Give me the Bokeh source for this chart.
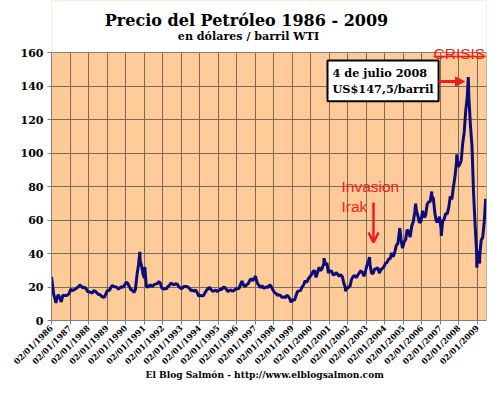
import pandas as pd
from math import pi
from bokeh.plotting import figure
from bokeh.models import Label, Arrow, NormalHead, OpenHead, FixedTicker, Range1d, ColumnDataSource, Title
from bokeh.embed import file_html
from bokeh.resources import INLINE

# Monthly WTI prices (US$/barrel)
y1986 = [22.9, 15.5, 12.6, 12.8, 15.4, 13.4, 11.6, 15.1, 14.9, 14.9, 15.2, 16.1]
y1987 = [18.7, 17.8, 18.3, 18.7, 19.4, 20.1, 21.3, 20.3, 19.5, 19.9, 18.9, 17.3]
y1988 = [17.1, 16.8, 16.2, 17.9, 17.4, 16.5, 15.5, 15.5, 14.5, 13.8, 14.1, 16.4]
y1989 = [18.0, 17.9, 19.5, 21.1, 20.1, 20.1, 19.8, 18.6, 19.6, 20.1, 19.9, 21.1]
y1990 = [22.9, 22.1, 20.4, 18.4, 18.2, 16.7, 18.5, 27.3, 33.5, 36.0, 32.3, 27.3]
y1991 = [25.2, 20.5, 19.9, 20.8, 21.2, 20.2, 21.4, 21.7, 21.9, 23.2, 22.5, 19.5]
y1992 = [18.8, 19.0, 18.9, 20.2, 21.0, 22.4, 21.8, 21.3, 21.9, 21.7, 20.3, 19.4]
y1993 = [19.0, 20.1, 20.3, 20.3, 20.0, 19.1, 17.9, 18.0, 17.5, 18.2, 16.6, 14.5]
y1994 = [15.0, 14.8, 14.7, 16.4, 17.9, 19.1, 19.7, 18.4, 17.5, 17.7, 18.1, 17.2]
y1995 = [18.0, 18.6, 18.5, 19.9, 19.7, 18.5, 17.3, 18.0, 18.2, 17.4, 18.0, 19.0]
y1996 = [18.9, 19.1, 21.3, 23.5, 21.2, 20.4, 21.3, 21.9, 24.0, 24.9, 23.7, 25.2]
y1997 = [25.1, 22.2, 21.0, 19.7, 20.8, 19.3, 19.7, 20.0, 19.8, 21.3, 20.2, 18.3]
y1998 = [16.7, 16.1, 15.1, 15.4, 14.9, 13.7, 14.2, 13.5, 15.0, 14.5, 13.0, 11.4]
y1999 = [12.5, 12.0, 14.7, 17.3, 17.7, 17.9, 20.1, 21.3, 23.8, 22.7, 25.0, 26.1]
y2000 = [27.3, 29.4, 29.8, 25.7, 28.8, 31.8, 29.7, 31.3, 33.9, 33.1, 34.4, 28.4]
y2001 = [29.6, 29.6, 27.3, 27.5, 28.6, 27.6, 26.4, 27.4, 26.2, 22.2, 19.6, 19.4]
y2002 = [19.7, 20.7, 24.5, 26.2, 27.0, 25.5, 27.0, 28.4, 29.7, 28.8, 26.4, 29.5]
y2003 = [33.0, 35.8, 33.5, 28.2, 28.1, 30.7, 30.8, 31.6, 28.3, 30.3, 31.1, 32.1]
y2004 = [34.3, 34.7, 36.7, 36.8, 40.3, 38.0, 40.8, 44.9, 45.9, 53.3, 48.5, 43.2]
y2005 = [46.8, 48.2, 54.2, 53.0, 49.8, 56.4, 59.0, 65.0, 65.6, 62.3, 58.3, 59.4]
y2006 = [65.5, 61.6, 62.7, 69.4, 70.8, 71.0, 74.4, 73.0, 63.8, 58.9, 59.1, 62.0]
y2007 = [54.5, 59.3, 60.4, 64.0, 63.5, 67.5, 74.1, 72.4, 79.9, 85.8, 94.8, 91.7]
y2008 = [93.0, 95.4, 105.5, 112.6, 125.4, 133.9, 133.4, 116.7, 104.1, 76.6, 57.3, 41.1]
y2009 = [41.7, 39.1, 47.9, 49.7, 59.0, 69.6]

# Daily extremes visible in the chart
spike_dates = ["1986-01-02", "1986-03-31", "1986-07-14", "1990-10-11", "1991-01-16",
               "1997-01-10", "1998-12-10", "2000-09-20", "2001-11-15", "2003-03-07",
               "2004-10-22", "2005-08-30", "2006-07-14", "2007-01-18", "2007-11-20",
               "2008-07-03", "2008-12-19", "2009-02-12", "2009-06-11", "2009-06-26"]
spike_prices = [26.0, 10.5, 11.0, 41.0, 32.0,
                26.5, 10.8, 37.2, 17.5, 37.8,
                55.2, 69.8, 77.0, 50.5, 99.2,
                145.3, 31.5, 34.0, 72.7, 71.5]

tick_years = list(range(1986, 2010))
tick_labels = ["02/01/%d" % yr for yr in tick_years]
y_ticks = [0, 20, 40, 60, 80, 100, 120, 140, 160]

monthly = (y1986 + y1987 + y1988 + y1989 + y1990 + y1991 + y1992 + y1993 + y1994 + y1995 +
           y1996 + y1997 + y1998 + y1999 + y2000 + y2001 + y2002 + y2003 + y2004 + y2005 +
           y2006 + y2007 + y2008 + y2009)
month_dates = pd.date_range("1986-01-01", periods=len(monthly), freq="MS") + pd.Timedelta(days=14)

df = pd.DataFrame({"date": list(month_dates) + list(pd.to_datetime(spike_dates)),
                   "price": monthly + spike_prices}).sort_values("date")
src = ColumnDataSource(df)

def ms(d):
    return pd.Timestamp(d).value / 1e6

ticks = [ms("%d-01-02" % yr) for yr in tick_years]
x0, x1 = ms("1986-01-02"), ms("2009-06-28")
y_top = 160 * 320 / 268.0   # frame reaches the top of the canvas; area above 160 is masked

p = figure(width=500, height=393, x_axis_type="datetime", output_backend="svg",
           toolbar_location=None, x_range=Range1d(x0, x1),
           y_range=Range1d(0, y_top), min_border_left=51, min_border_right=14,
           min_border_top=0, min_border_bottom=73)
p.background_fill_color = "#FFCC99"
p.border_fill_color = "white"
p.outline_line_color = None

p.line("date", "price", source=src, line_color="#0c0c78", line_width=3)
# white mask above the 160 level, and the plot-area border
p.quad(left=[x0], right=[x1], bottom=[160], top=[y_top], fill_color="white", line_color=None)
p.quad(left=[x0], right=[x1], bottom=[0], top=[160], fill_color=None, line_color="#808080",
       line_width=1)

serif = "DejaVu Serif"
red = "#ee1c1c"

# axes
p.xaxis.ticker = FixedTicker(ticks=ticks)
p.xaxis.major_label_overrides = {t: lab for t, lab in zip(ticks, tick_labels)}
p.xaxis.major_label_orientation = pi / 4
p.xaxis.major_label_text_font = serif
p.xaxis.major_label_text_font_style = "bold"
p.xaxis.major_label_text_font_size = "8.2px"
p.xaxis.major_label_standoff = 2
p.yaxis.ticker = FixedTicker(ticks=y_ticks)
p.yaxis.bounds = (0, 160)
p.yaxis.major_label_text_font = serif
p.yaxis.major_label_text_font_style = "bold"
p.yaxis.major_label_text_font_size = "11px"
p.yaxis.major_label_standoff = 4
for ax in (p.xaxis, p.yaxis):
    ax.axis_line_color = "#808080"
    ax.major_tick_line_color = "#808080"
    ax.major_tick_out = 4
    ax.major_tick_in = 0
    ax.minor_tick_line_color = None
    ax.major_label_text_color = "black"
p.xgrid.ticker = FixedTicker(ticks=ticks)
for g in (p.xgrid, p.ygrid):
    g.grid_line_color = "#7a6a5a"
    g.grid_line_width = 1

# titles (screen units measured from the frame's bottom-left corner)
p.add_layout(Label(x=195, y=300.5, x_units="screen", y_units="screen",
                   text="Precio del Petróleo 1986 - 2009", text_align="center",
                   text_baseline="alphabetic", text_font=serif, text_font_style="bold",
                   text_font_size="16px", text_color="black"))
p.add_layout(Label(x=197, y=284, x_units="screen", y_units="screen",
                   text="en dólares / barril WTI", text_align="center",
                   text_baseline="alphabetic", text_font=serif, text_font_style="bold",
                   text_font_size="11.1px", text_color="black"))

# footer
footer_kw = dict(text="El Blog Salmón - http://www.elblogsalmon.com", align="left",
                 offset=94, vertical_align="top", text_font=serif,
                 text_font_style="bold", text_font_size="9.1px", text_color="black")
try:
    footer = Title(standoff=-10, **footer_kw)
except Exception:
    footer = Title(standoff=0, **footer_kw)
p.add_layout(footer, "below")

# CRISIS with underline
p.add_layout(Label(x=382, y=266.7, x_units="screen", y_units="screen", text="CRISIS",
                   text_align="left", text_baseline="alphabetic", text_font="Liberation Sans",
                   text_font_size="15.5px", text_color=red))
p.add_layout(Arrow(x_start=382, y_start=264, x_end=434, y_end=264,
                   start_units="screen", end_units="screen",
                   line_color=red, line_width=1.5, end=None))

# annotation box
p.add_layout(Label(x=276, y=260, x_units="screen", y_units="screen",
                   text="4 de julio 2008\nUS$147,5/barril", text_align="left",
                   text_baseline="top", text_font=serif, text_font_style="bold",
                   text_font_size="11.3px", text_color="black", padding=5,
                   background_fill_color="white", border_line_color="black",
                   border_line_width=2))
p.add_layout(Arrow(x_start=387, y_start=239, x_end=413, y_end=239,
                   start_units="screen", end_units="screen",
                   line_color=red, line_width=3,
                   end=NormalHead(size=9, fill_color=red, line_color=red)))

# Invasion Irak
p.add_layout(Label(x=290, y=143, x_units="screen", y_units="screen", text="Invasion\nIrak",
                   text_align="left", text_baseline="top", text_font="Liberation Sans",
                   text_font_size="15.5px", text_color=red))
p.add_layout(Arrow(x_start=322, y_start=118, x_end=322, y_end=78,
                   start_units="screen", end_units="screen",
                   line_color=red, line_width=2.5,
                   end=OpenHead(size=10, line_color=red, line_width=2.5)))

open("out.html", "w").write(file_html(p, INLINE))
